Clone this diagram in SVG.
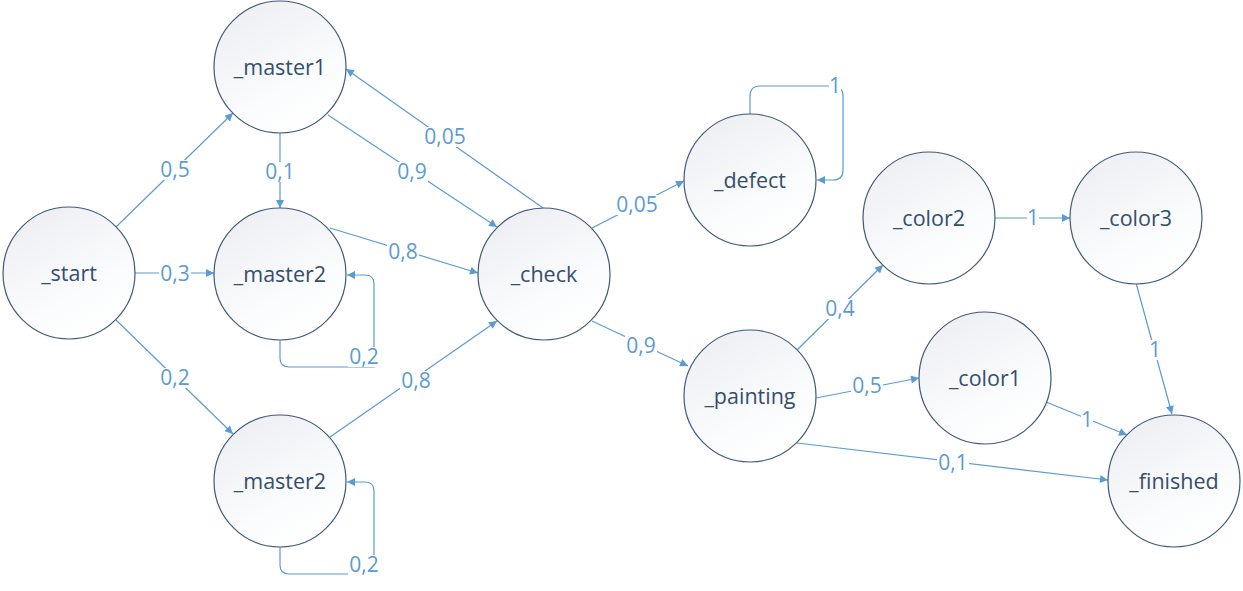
<svg xmlns="http://www.w3.org/2000/svg" width="1243" height="591" viewBox="0 0 1243 591">
<style>
.node circle{fill:url(#g);stroke:#41597A;stroke-width:1.2}
.node text{font-family:"Open Sans","Noto Sans",sans-serif;font-size:21.5px;fill:#344E6E;text-anchor:middle}
.edges path{fill:none;stroke:#5B9BD5;stroke-width:1.2}
.edges .a{marker-end:url(#arr)}
.bg{fill:#fff}
.lbl{font-family:"Open Sans","Noto Sans",sans-serif;font-size:21px;text-anchor:middle;fill:#5B9BD5}
</style>
<defs>
<linearGradient id="g" x1="0.15" y1="0" x2="0.7" y2="1">
<stop offset="0" stop-color="#ECEEF2"/>
<stop offset="0.7" stop-color="#FBFCFD"/>
<stop offset="1" stop-color="#FFFFFF"/>
</linearGradient>
<marker id="arr" viewBox="0 0 10 10" refX="10" refY="5" markerWidth="11" markerHeight="8" markerUnits="userSpaceOnUse" orient="auto">
<path d="M0,0 L10,5 L0,10 z" fill="#5B9BD5" stroke="none"/>
</marker>
</defs>
<g class="edges" id="edges">
<path class="a" d="M116,227 L233,113"/>
<path class="a" d="M135,273 L214,273"/>
<path class="a" d="M116,320 L233,434"/>
<path class="a" d="M280,133 L280,208"/>
<path class="a" d="M328,115 L497,227"/>
<path class="a" d="M543,208 L346,69"/>
<path class="a" d="M330,228 L478,273"/>
<path class="a" d="M280,340 V358 Q280,367 289,367 H374 V284 Q374,275 365,275 H347"/>
<path class="a" d="M280,547 V565 Q280,574 289,574 H374 V491 Q374,482 365,482 H347"/>
<path class="a" d="M330,437 L497,321"/>
<path class="a" d="M592,228 L684,181"/>
<path class="a" d="M750,114 V96 Q750,86 760,86 H833 Q843,86 843,96 V170 Q843,180 833,180 H817"/>
<path class="a" d="M592,321 L688,366"/>
<path class="a" d="M797,350 L883,265"/>
<path class="a" d="M816,398 L919,378"/>
<path class="a" d="M797,443 L1108,480"/>
<path class="a" d="M995,218 L1070,218"/>
<path class="a" d="M1136,283 L1172,414"/>
<path class="a" d="M1046,402 L1127,435"/>
<g class="bg">
<rect x="159" y="160" width="32" height="20"/>
<rect x="159" y="264" width="32" height="20"/>
<rect x="159" y="368" width="32" height="20"/>
<rect x="264" y="162" width="32" height="20"/>
<rect x="396" y="162" width="32" height="20"/>
<rect x="423" y="127" width="44" height="20"/>
<rect x="387" y="242" width="32" height="20"/>
<rect x="348" y="347" width="32" height="20"/>
<rect x="348" y="555" width="32" height="20"/>
<rect x="400" y="371" width="32" height="20"/>
<rect x="615" y="195" width="44" height="20"/>
<rect x="829" y="76" width="12" height="20"/>
<rect x="625" y="336" width="32" height="20"/>
<rect x="824" y="299" width="32" height="20"/>
<rect x="851" y="376" width="32" height="20"/>
<rect x="937" y="453" width="32" height="20"/>
<rect x="1027" y="208" width="12" height="20"/>
<rect x="1149" y="340" width="12" height="20"/>
<rect x="1081" y="410" width="12" height="20"/>
</g>
<g class="lbl">
<text x="175" y="177">0,5</text>
<text x="175" y="281">0,3</text>
<text x="175" y="385">0,2</text>
<text x="280" y="179">0,1</text>
<text x="412" y="179">0,9</text>
<text x="445" y="144">0,05</text>
<text x="403" y="259">0,8</text>
<text x="364" y="364">0,2</text>
<text x="364" y="572">0,2</text>
<text x="416" y="388">0,8</text>
<text x="637" y="212">0,05</text>
<text x="835" y="93">1</text>
<text x="641" y="353">0,9</text>
<text x="840" y="316">0,4</text>
<text x="867" y="393">0,5</text>
<text x="953" y="470">0,1</text>
<text x="1033" y="225">1</text>
<text x="1155" y="357">1</text>
<text x="1087" y="427">1</text>
</g>
</g>
<g class="node" id="n-start"><circle cx="69" cy="273" r="66"/><text x="69" y="281">_start</text></g>
<g class="node" id="n-master1"><circle cx="280" cy="67" r="66"/><text x="280" y="75">_master1</text></g>
<g class="node" id="n-master2a"><circle cx="280" cy="274" r="66"/><text x="280" y="282">_master2</text></g>
<g class="node" id="n-master2b"><circle cx="280" cy="481" r="66"/><text x="280" y="489">_master2</text></g>
<g class="node" id="n-check"><circle cx="544" cy="274" r="66"/><text x="544" y="282">_check</text></g>
<g class="node" id="n-defect"><circle cx="750" cy="180" r="66"/><text x="750" y="188">_defect</text></g>
<g class="node" id="n-painting"><circle cx="750" cy="396" r="66"/><text x="750" y="404">_painting</text></g>
<g class="node" id="n-color2"><circle cx="929" cy="218" r="66"/><text x="929" y="226">_color2</text></g>
<g class="node" id="n-color3"><circle cx="1136" cy="218" r="66"/><text x="1136" y="226">_color3</text></g>
<g class="node" id="n-color1"><circle cx="985" cy="378" r="66"/><text x="985" y="386">_color1</text></g>
<g class="node" id="n-finished"><circle cx="1174" cy="481" r="66"/><text x="1174" y="489">_finished</text></g>
</svg>
